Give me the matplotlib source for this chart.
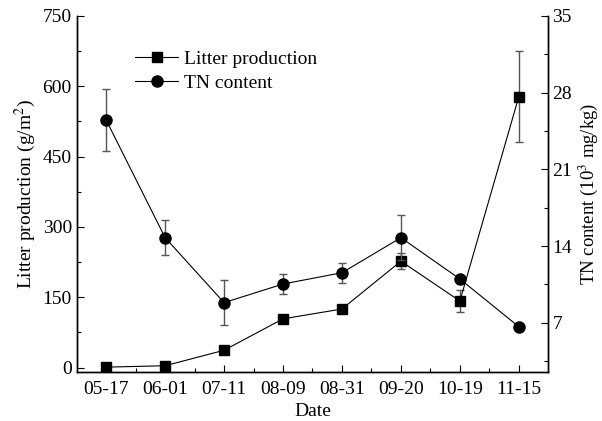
import matplotlib.pyplot as plt
from matplotlib.ticker import MultipleLocator, FixedLocator

plt.rcParams['font.family'] = ['Liberation Serif', 'DejaVu Serif']
plt.rcParams['mathtext.fontset'] = 'stix'

dates = ['05-17', '06-01', '07-11', '08-09', '08-31', '09-20', '10-19', '11-15']
litter = [1, 4, 37, 104, 125, 227, 142, 578]
litter_err = [0, 0, 0, 0, 0, 17, 24, 97]
tn = [25.5, 14.76, 8.83, 10.53, 11.56, 14.76, 10.99, 6.63]
tn_err = [2.8, 1.6, 2.05, 0.95, 0.9, 2.05, 0, 0]

x = list(range(len(dates)))

fig = plt.figure(figsize=(6.02, 4.21), dpi=100)
ax = fig.add_axes([0.1274, 0.1157, 0.7834, 0.8463])
ax2 = ax.twinx()

ax.errorbar(x, litter, yerr=litter_err, fmt='none', ecolor='#555555',
            elinewidth=1, capsize=3, capthick=1)
l1, = ax.plot(x, litter, '-s', color='black', lw=0.8, ms=6.5,
              label='Litter production')
ax2.errorbar(x, tn, yerr=tn_err, fmt='none', ecolor='#555555',
             elinewidth=1, capsize=3, capthick=1)
l2, = ax2.plot(x, tn, '-o', color='black', lw=0.8, ms=8,
               label='TN content')

ax.set_xlim(-0.5, 7.5)
ax.set_ylim(-10, 750)
ax2.set_ylim(2.47, 35)
ax.set_xticks(x)
ax.set_xticklabels(dates)
ax.xaxis.set_minor_locator(FixedLocator([i + 0.5 for i in x[:-1]]))
ax.yaxis.set_major_locator(MultipleLocator(150))
ax.yaxis.set_minor_locator(MultipleLocator(75))
ax2.yaxis.set_major_locator(FixedLocator([7, 14, 21, 28, 35]))
ax2.yaxis.set_minor_locator(FixedLocator([3.5, 10.5, 17.5, 24.5, 31.5]))

for a in (ax, ax2):
    a.spines['top'].set_visible(False)
    for s in a.spines.values():
        s.set_linewidth(1)
    a.tick_params(which='both', direction='in', labelsize=14, width=0.8)
    a.tick_params(which='major', length=5)
    a.tick_params(which='minor', length=3)
ax.tick_params(axis='x', pad=6)
ax2.tick_params(axis='y', pad=3)

ax.set_xlabel('Date', fontsize=14, labelpad=4)
ax.set_ylabel('Litter production (g/m$^2$)', fontsize=14, labelpad=3)
ax2.set_ylabel('TN content (10$^3$ mg/kg)', fontsize=13.5, labelpad=3)

ax.legend(handles=[l1, l2], loc='upper left', bbox_to_anchor=(0.108, 0.925),
          frameon=False, fontsize=14, handlelength=2.2, handletextpad=0.3,
          borderaxespad=0, labelspacing=0.3)

fig.savefig('out.png', dpi=100)
